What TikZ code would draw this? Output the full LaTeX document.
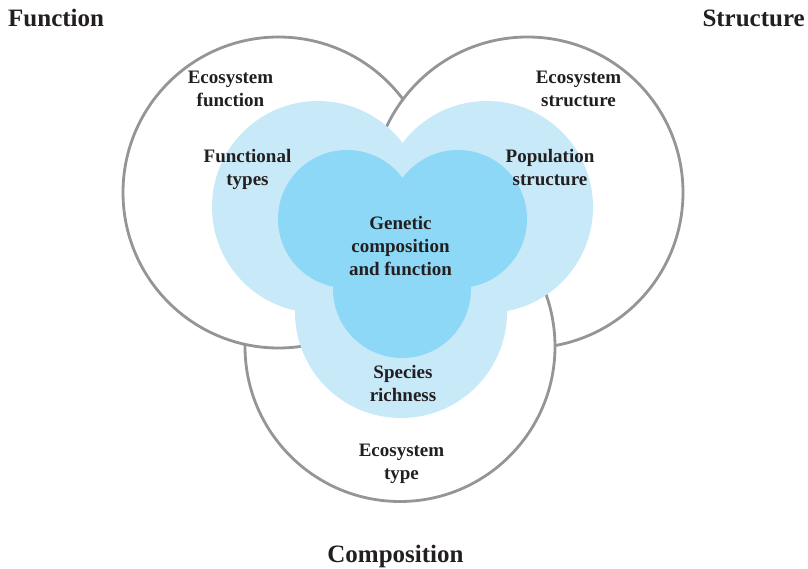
\documentclass[tikz,border=0pt]{standalone}
\usepackage{fontspec}
\setmainfont{Liberation Serif}
\definecolor{ringgray}{HTML}{939598}
\definecolor{paleblue}{HTML}{C7E9F8}
\definecolor{midblue}{HTML}{8ED8F7}
\definecolor{inktext}{HTML}{231F20}
\tikzset{
  ring/.style = {draw = ringgray, line width = 2.8pt, fill = white},
  lbl/.style = {text = inktext, font = \bfseries\fontsize{19}{23}\selectfont, align = center, anchor = base, inner sep = 0pt},
  heading/.style = {text = inktext, font = \bfseries\fontsize{25}{30}\selectfont, inner sep = 0pt}
}
\begin{document}
\begin{tikzpicture}[x = 1pt, y = -1pt]
\useasboundingbox (0,0) rectangle (808,569);
\coordinate (cleft) at (278.5,192.5);
\coordinate (cright) at (527.5,192.5);
\coordinate (cbottom) at (400,346.5);
% outer rings
\draw[ring] (cleft) circle[radius = 155.5];
\draw[ring] (cright) circle[radius = 155.5];
\draw[ring] (cbottom) circle[radius = 155];
\begin{scope}
\clip (cbottom) circle[radius = 158];
\draw[ring] (cleft) circle[radius = 155.5];
\end{scope}
% blue discs
\foreach \x/\y in {318/207, 487/207, 401/312}
{
	\fill[paleblue] (\x,\y) circle[radius = 106];
}
\foreach \x/\y in {347/219, 458/219, 402/289}
{
	\fill[midblue] (\x,\y) circle[radius = 69];
}
% labels (base = last line)
\node[heading, anchor = base west] (function) at (8,27) {Function};
\node[heading, anchor = base east] (structure) at (805,27) {Structure};
\node[heading, anchor = base] (composition) at (395.5,562) {Composition};
\node[lbl] (ecofunction) at (230.5,107) {Ecosystem\\function};
\node[lbl] (ecostructure) at (578.5,107) {Ecosystem\\structure};
\node[lbl] (ecotype) at (401.5,479) {Ecosystem\\type};
\node[lbl] (functypes) at (247.5,185.5) {Functional\\types};
\node[lbl] (popstructure) at (550,186) {Population\\structure};
\node[lbl] (richness) at (403,401) {Species\\richness};
\node[lbl] (genetic) at (400.5,276) {Genetic\\composition\\and function};
\end{tikzpicture}
\end{document}
